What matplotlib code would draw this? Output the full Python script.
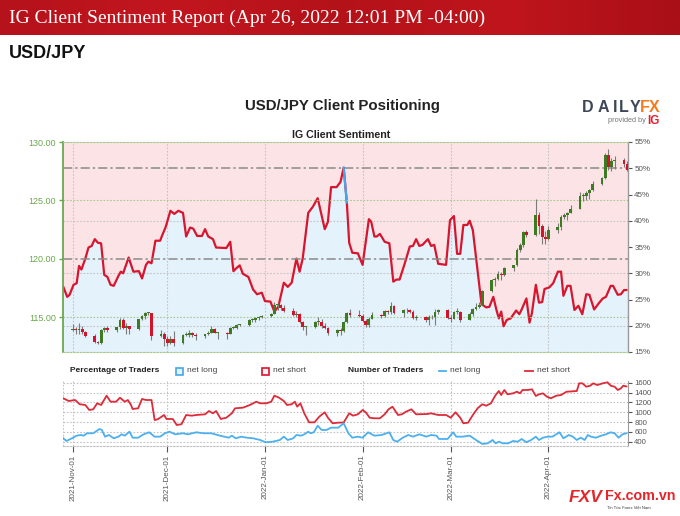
import matplotlib
matplotlib.use("Agg")
import matplotlib.pyplot as plt
import matplotlib.dates as mdates
import numpy as np
import pandas as pd
from matplotlib.patches import Rectangle
from matplotlib.lines import Line2D
from matplotlib.colors import LinearSegmentedColormap

# ---------------------------------------------------------------- data
# Daily USD/JPY candles (trading days 2021-11-01 .. 2022-04-26)
candle_days = pd.bdate_range("2021-11-01", "2022-04-26")
open_ = [113.95, 114.00, 113.95, 114.05, 113.75, 113.40, 112.90, 112.85, 113.90, 114.10, 113.90, 114.15, 114.80, 114.10, 114.25, 114.00, 114.85, 115.10, 115.35, 115.35, 113.40, 113.60,
         113.15, 112.80, 113.15, 112.80, 113.50, 113.50, 113.70, 113.50, 113.40, 113.55, 113.70, 114.05, 113.70, 113.70, 113.60, 114.10, 114.10, 114.40, 114.40, 114.80, 114.80, 114.95, 115.05,
         115.10, 115.30, 116.10, 116.10, 115.85, 115.55, 115.20, 115.30, 114.60, 114.20, 114.20, 114.60, 114.60, 114.30, 114.10, 113.70, 113.95, 113.85, 114.65, 115.35, 115.25,
         115.10, 114.70, 114.40, 114.90, 115.20, 115.10, 115.55, 115.50, 116.00, 115.40, 115.60, 115.60, 115.45, 114.95, 115.00, 114.75, 115.05, 115.00, 115.50, 115.60,
         114.95, 114.90, 115.50, 115.50, 114.80, 115.30, 115.70, 115.90, 116.10, 117.30, 118.20, 118.30, 118.75, 118.60, 119.20, 119.45, 120.80, 121.20, 122.30, 122.05, 123.80, 122.80, 121.85,
         121.70, 122.50, 122.75, 123.60, 123.75, 123.95, 124.30, 125.35, 125.40, 125.60, 125.90, 126.40, 126.90, 128.90, 127.90, 128.40, 128.50, 128.10]
high = [114.45, 114.15, 114.50, 114.30, 113.85, 113.55, 113.00, 114.00, 114.20, 114.30, 114.20, 114.95, 114.95, 114.50, 114.30, 114.90, 115.20, 115.50, 115.50, 115.35, 113.90, 113.80,
        113.40, 113.40, 113.85, 113.55, 113.80, 113.95, 113.75, 113.65, 113.60, 113.85, 114.25, 114.10, 113.80, 113.75, 114.15, 114.30, 114.45, 114.45, 114.85, 114.95, 115.00, 115.10, 115.20,
        115.40, 116.35, 116.20, 116.15, 116.05, 115.85, 115.55, 115.35, 114.70, 114.30, 114.70, 115.05, 114.85, 114.50, 114.20, 114.00, 114.10, 114.70, 115.50, 115.70, 115.60,
        115.30, 114.85, 115.00, 115.45, 115.30, 115.60, 115.65, 116.35, 116.10, 115.70, 115.85, 115.75, 115.60, 115.20, 115.15, 115.20, 115.25, 115.70, 115.75, 115.75,
        115.20, 115.55, 115.80, 115.55, 115.45, 115.80, 116.20, 116.30, 117.35, 118.30, 118.45, 119.00, 118.85, 119.30, 119.50, 120.95, 121.40, 122.40, 122.45, 125.10, 124.00, 123.00, 122.40,
        122.80, 123.05, 123.75, 123.95, 124.00, 124.60, 125.75, 125.60, 125.80, 126.00, 126.65, 127.00, 129.10, 129.40, 128.60, 128.80, 128.65, 128.40]
low = [113.85, 113.55, 113.60, 113.60, 113.30, 112.85, 112.75, 112.75, 113.75, 113.80, 113.75, 114.05, 114.05, 113.60, 113.60, 113.90, 114.75, 114.85, 115.20, 113.05, 113.30, 112.55,
       112.60, 112.70, 112.55, 112.75, 113.40, 113.35, 113.30, 113.10, 113.25, 113.50, 113.70, 113.65, 113.15, 113.15, 113.55, 114.00, 114.00, 114.30, 114.30, 114.65, 114.60, 114.80, 114.95,
       115.00, 115.30, 115.65, 115.65, 115.45, 115.10, 115.05, 114.50, 113.90, 113.50, 114.10, 114.40, 114.10, 114.00, 113.50, 113.45, 113.50, 113.80, 114.55, 115.05, 115.00,
       114.60, 114.20, 114.20, 114.90, 114.95, 115.05, 115.30, 115.30, 115.30, 115.00, 115.35, 115.35, 114.85, 114.80, 114.60, 114.40, 114.85, 114.40, 115.30, 114.85,
       114.65, 114.85, 115.30, 114.65, 114.80, 115.10, 115.60, 115.80, 116.05, 117.20, 117.70, 118.20, 118.20, 118.55, 118.95, 119.40, 120.60, 121.05, 121.90, 122.00, 122.15, 121.30, 121.30,
       121.60, 122.25, 122.45, 123.40, 123.35, 123.90, 124.30, 124.95, 125.05, 125.10, 125.80, 126.35, 126.85, 127.60, 127.50, 127.65, 127.90, 127.50]
close = [114.00, 113.95, 114.05, 113.75, 113.40, 112.90, 112.85, 113.90, 114.10, 113.90, 114.15, 114.80, 114.10, 114.25, 114.00, 114.85, 115.10, 115.35, 115.35, 113.40, 113.60, 113.15,
         112.80, 113.15, 112.80, 113.50, 113.50, 113.70, 113.50, 113.40, 113.55, 113.70, 114.05, 113.70, 113.70, 113.60, 114.10, 114.10, 114.40, 114.40, 114.80, 114.80, 114.95, 115.05, 115.10,
         115.30, 116.10, 116.10, 115.85, 115.55, 115.20, 115.30, 114.60, 114.20, 114.20, 114.60, 114.60, 114.30, 114.10, 113.70, 113.95, 113.85, 114.65, 115.35, 115.25, 115.10,
         114.70, 114.40, 114.90, 115.20, 115.10, 115.55, 115.50, 116.00, 115.40, 115.60, 115.60, 115.45, 114.95, 115.00, 114.75, 115.05, 115.00, 115.50, 115.60, 114.95,
         114.90, 115.50, 115.50, 114.80, 115.30, 115.70, 115.90, 116.10, 117.30, 118.20, 118.30, 118.75, 118.60, 119.20, 119.45, 120.80, 121.20, 122.30, 122.05, 123.80, 122.80, 121.85, 121.70,
         122.50, 122.75, 123.60, 123.75, 123.95, 124.30, 125.35, 125.40, 125.60, 125.90, 126.40, 126.90, 128.90, 127.90, 128.40, 128.50, 128.10, 127.60]

# Percentage of traders net long
pct_times = ['2021-10-29 00:00', '2021-10-30 06:00', '2021-10-31 00:00', '2021-11-01 06:00', '2021-11-02 06:00', '2021-11-03 00:00',
             '2021-11-03 18:00', '2021-11-05 00:00', '2021-11-06 00:00', '2021-11-07 00:00', '2021-11-08 00:00', '2021-11-09 00:00',
             '2021-11-10 00:00', '2021-11-11 00:00', '2021-11-12 00:00', '2021-11-13 00:00', '2021-11-14 00:00', '2021-11-15 12:00',
             '2021-11-16 06:00', '2021-11-17 00:00', '2021-11-18 18:00', '2021-11-20 06:00', '2021-11-22 00:00', '2021-11-23 00:00',
             '2021-11-24 06:00', '2021-11-25 00:00', '2021-11-26 00:00', '2021-11-27 06:00', '2021-11-28 18:00', '2021-11-29 06:00',
             '2021-11-30 12:00', '2021-12-02 00:00', '2021-12-03 06:00', '2021-12-04 12:00', '2021-12-06 00:00', '2021-12-07 00:00',
             '2021-12-08 06:00', '2021-12-09 06:00', '2021-12-10 12:00', '2021-12-12 00:00', '2021-12-13 00:00', '2021-12-14 00:00',
             '2021-12-15 12:00', '2021-12-16 12:00', '2021-12-19 18:00', '2021-12-21 00:00', '2021-12-22 00:00', '2021-12-23 00:00',
             '2021-12-24 00:00', '2021-12-25 00:00', '2021-12-26 18:00', '2021-12-28 06:00', '2021-12-29 12:00', '2021-12-31 00:00',
             '2022-01-01 00:00', '2022-01-02 18:00', '2022-01-04 00:00', '2022-01-05 06:00', '2022-01-07 00:00', '2022-01-08 06:00',
             '2022-01-09 12:00', '2022-01-11 00:00', '2022-01-12 00:00', '2022-01-13 00:00', '2022-01-14 18:00', '2022-01-16 06:00',
             '2022-01-17 18:00', '2022-01-20 00:00', '2022-01-21 00:00', '2022-01-22 00:00', '2022-01-23 18:00', '2022-01-25 00:00',
             '2022-01-26 00:00', '2022-01-27 00:00', '2022-01-27 18:00', '2022-01-28 18:00', '2022-01-30 12:00', '2022-02-01 00:00',
             '2022-02-03 00:00', '2022-02-03 18:00', '2022-02-04 18:00', '2022-02-05 12:00', '2022-02-06 12:00', '2022-02-08 00:00',
             '2022-02-09 12:00', '2022-02-10 18:00', '2022-02-11 18:00', '2022-02-12 18:00', '2022-02-14 06:00', '2022-02-16 00:00',
             '2022-02-17 00:00', '2022-02-18 00:00', '2022-02-19 00:00', '2022-02-20 00:00', '2022-02-21 18:00', '2022-02-22 18:00',
             '2022-02-23 18:00', '2022-02-25 00:00', '2022-02-27 12:00', '2022-02-28 18:00', '2022-03-02 00:00', '2022-03-03 00:00',
             '2022-03-04 00:00', '2022-03-05 00:00', '2022-03-06 06:00', '2022-03-07 00:00', '2022-03-08 00:00', '2022-03-10 18:00',
             '2022-03-12 06:00', '2022-03-13 06:00', '2022-03-14 12:00', '2022-03-15 12:00', '2022-03-16 06:00', '2022-03-17 00:00',
             '2022-03-17 18:00', '2022-03-18 18:00', '2022-03-20 00:00', '2022-03-21 18:00', '2022-03-22 18:00', '2022-03-23 12:00',
             '2022-03-25 00:00', '2022-03-26 00:00', '2022-03-26 18:00', '2022-03-28 00:00', '2022-03-29 00:00', '2022-03-30 00:00',
             '2022-03-30 18:00', '2022-04-01 06:00', '2022-04-02 12:00', '2022-04-04 00:00', '2022-04-05 00:00', '2022-04-05 18:00',
             '2022-04-07 00:00', '2022-04-08 00:00', '2022-04-09 06:00', '2022-04-10 12:00', '2022-04-11 18:00', '2022-04-13 00:00',
             '2022-04-14 00:00', '2022-04-15 12:00', '2022-04-17 00:00', '2022-04-18 06:00', '2022-04-19 06:00', '2022-04-20 18:00',
             '2022-04-21 12:00', '2022-04-23 00:00', '2022-04-24 00:00', '2022-04-25 00:00', '2022-04-25 18:00']
pct_long = [27.4, 25.5, 25.9, 27.8, 28.1, 31.4,
            30.7, 32.8, 34.9, 35.2, 36.5, 35.8,
            35.7, 29.7, 29.3, 27.8, 27.6, 29.5,
            30.3, 30.0, 33.0, 30.3, 30.4, 29.0,
            31.6, 32.2, 31.9, 36.2, 36.2, 37.0,
            38.8, 41.9, 41.3, 41.9, 41.5, 37.0,
            38.7, 38.5, 37.1, 37.1, 38.4, 37.0,
            36.5, 34.9, 34.8, 36.0, 30.4, 31.0,
            31.5, 29.9, 29.3, 26.9, 26.0, 26.3,
            24.7, 24.6, 22.7, 23.6, 28.2, 27.4,
            28.2, 32.8, 30.3, 32.8, 41.5, 42.7,
            44.3, 38.4, 39.8, 46.4, 46.4, 47.4,
            50.1, 43.5, 35.8, 33.9, 33.8, 31.6,
            40.3, 39.8, 37.0, 37.0, 37.5, 36.0,
            35.7, 28.4, 28.8, 28.8, 31.6, 35.1,
            35.2, 36.5, 35.2, 35.4, 36.5, 35.2,
            35.4, 31.8, 31.6, 40.1, 40.9, 33.7,
            33.7, 39.2, 39.2, 40.0, 38.2, 24.1,
            23.5, 23.6, 25.5, 23.0, 21.4, 22.7,
            19.9, 21.1, 21.4, 22.9, 22.2, 23.1,
            25.2, 20.6, 22.4, 27.8, 24.4, 24.5,
            27.0, 27.3, 28.1, 30.3, 30.3, 25.7,
            27.6, 27.6, 23.0, 23.8, 22.2, 26.0,
            25.9, 23.1, 24.3, 25.2, 25.5, 27.6,
            27.6, 25.9, 26.0, 26.8, 26.8]

# Number of traders net short
short_times = ['2021-10-29 00:00', '2021-10-30 18:00', '2021-11-01 18:00', '2021-11-03 06:00', '2021-11-05 00:00', '2021-11-06 06:00',
               '2021-11-07 12:00', '2021-11-08 18:00', '2021-11-10 00:00', '2021-11-11 18:00', '2021-11-13 00:00', '2021-11-14 18:00',
               '2021-11-16 00:00', '2021-11-17 12:00', '2021-11-18 12:00', '2021-11-19 12:00', '2021-11-20 00:00', '2021-11-21 18:00',
               '2021-11-23 00:00', '2021-11-24 06:00', '2021-11-26 00:00', '2021-11-27 00:00', '2021-11-28 00:00', '2021-11-30 00:00',
               '2021-11-30 18:00', '2021-12-02 18:00', '2021-12-04 00:00', '2021-12-05 12:00', '2021-12-07 00:00', '2021-12-08 18:00',
               '2021-12-10 06:00', '2021-12-13 00:00', '2021-12-14 06:00', '2021-12-15 12:00', '2021-12-16 12:00', '2021-12-18 00:00',
               '2021-12-19 18:00', '2021-12-21 12:00', '2021-12-22 12:00', '2021-12-25 00:00', '2021-12-27 06:00', '2021-12-29 06:00',
               '2021-12-30 12:00', '2022-01-01 12:00', '2022-01-03 00:00', '2022-01-04 00:00', '2022-01-05 12:00', '2022-01-07 00:00',
               '2022-01-08 00:00', '2022-01-09 12:00', '2022-01-10 12:00', '2022-01-11 06:00', '2022-01-12 06:00', '2022-01-13 12:00',
               '2022-01-15 00:00', '2022-01-16 18:00', '2022-01-18 06:00', '2022-01-20 00:00', '2022-01-21 00:00', '2022-01-22 12:00',
               '2022-01-24 06:00', '2022-01-26 00:00', '2022-01-27 18:00', '2022-01-29 00:00', '2022-01-30 12:00', '2022-02-01 00:00',
               '2022-02-02 00:00', '2022-02-03 06:00', '2022-02-04 18:00', '2022-02-06 12:00', '2022-02-08 00:00', '2022-02-09 06:00',
               '2022-02-10 12:00', '2022-02-12 06:00', '2022-02-13 12:00', '2022-02-14 18:00', '2022-02-16 12:00', '2022-02-18 00:00',
               '2022-02-21 12:00', '2022-02-22 18:00', '2022-02-25 00:00', '2022-02-27 12:00', '2022-03-01 00:00', '2022-03-02 12:00',
               '2022-03-04 00:00', '2022-03-05 00:00', '2022-03-06 12:00', '2022-03-08 00:00', '2022-03-09 12:00', '2022-03-11 00:00',
               '2022-03-12 06:00', '2022-03-13 18:00', '2022-03-14 12:00', '2022-03-15 06:00', '2022-03-16 06:00', '2022-03-17 00:00',
               '2022-03-18 00:00', '2022-03-19 00:00', '2022-03-20 18:00', '2022-03-22 00:00', '2022-03-23 00:00', '2022-03-23 18:00',
               '2022-03-25 12:00', '2022-03-26 18:00', '2022-03-28 00:00', '2022-03-29 00:00', '2022-03-30 06:00', '2022-03-31 12:00',
               '2022-04-01 18:00', '2022-04-03 12:00', '2022-04-05 00:00', '2022-04-06 18:00', '2022-04-10 00:00', '2022-04-10 18:00',
               '2022-04-11 18:00', '2022-04-13 00:00', '2022-04-14 06:00', '2022-04-15 06:00', '2022-04-16 12:00', '2022-04-18 06:00',
               '2022-04-19 18:00', '2022-04-20 18:00', '2022-04-22 00:00', '2022-04-23 00:00', '2022-04-24 00:00', '2022-04-24 18:00',
               '2022-04-25 18:00']
short_count = [1283, 1228, 1248, 1161, 1147, 1045,
               1059, 1181, 1147, 1336, 1214, 1214,
               1295, 1214, 1248, 1147, 1065, 1079,
               1269, 1248, 1248, 841, 856, 943,
               862, 862, 740, 754, 943, 929,
               943, 957, 1024, 977, 1024, 862,
               888, 977, 1079, 1092, 1147, 1214,
               1181, 1181, 1214, 1336, 1295, 1228,
               1147, 1161, 1214, 1112, 1181, 977,
               794, 794, 909, 998, 888, 774,
               787, 790, 977, 929, 957, 1045,
               998, 888, 876, 876, 957, 1059,
               1112, 943, 957, 1010, 1059, 957,
               963, 977, 943, 943, 888, 998,
               888, 774, 787, 943, 1079, 1161,
               1132, 1181, 1269, 1350, 1431, 1350,
               1452, 1364, 1384, 1417, 1384, 1452,
               1452, 1466, 1330, 1364, 1384, 1316,
               1283, 1336, 1350, 1417, 1431, 1588,
               1588, 1519, 1539, 1588, 1553, 1588,
               1608, 1539, 1519, 1452, 1486, 1539,
               1525]

# Number of traders net long
long_times = ['2021-10-29 00:00', '2021-10-30 00:00', '2021-10-31 18:00', '2021-11-02 06:00', '2021-11-03 12:00', '2021-11-04 12:00',
              '2021-11-05 12:00', '2021-11-07 12:00', '2021-11-09 12:00', '2021-11-10 06:00', '2021-11-11 06:00', '2021-11-12 12:00',
              '2021-11-14 00:00', '2021-11-15 12:00', '2021-11-16 12:00', '2021-11-17 12:00', '2021-11-19 00:00', '2021-11-20 00:00',
              '2021-11-21 18:00', '2021-11-23 12:00', '2021-11-25 06:00', '2021-11-27 00:00', '2021-11-28 18:00', '2021-11-30 06:00',
              '2021-12-01 18:00', '2021-12-03 12:00', '2021-12-06 00:00', '2021-12-07 12:00', '2021-12-10 06:00', '2021-12-12 12:00',
              '2021-12-15 00:00', '2021-12-17 18:00', '2021-12-20 12:00', '2021-12-21 12:00', '2021-12-22 18:00', '2021-12-24 12:00',
              '2021-12-26 06:00', '2021-12-28 06:00', '2021-12-30 12:00', '2022-01-01 06:00', '2022-01-03 12:00', '2022-01-05 18:00',
              '2022-01-07 00:00', '2022-01-08 06:00', '2022-01-10 00:00', '2022-01-11 00:00', '2022-01-12 12:00', '2022-01-13 12:00',
              '2022-01-14 18:00', '2022-01-15 12:00', '2022-01-16 12:00', '2022-01-17 18:00', '2022-01-19 00:00', '2022-01-20 12:00',
              '2022-01-22 00:00', '2022-01-24 06:00', '2022-01-26 00:00', '2022-01-27 12:00', '2022-01-28 18:00', '2022-01-30 12:00',
              '2022-02-01 00:00', '2022-02-02 18:00', '2022-02-04 18:00', '2022-02-07 00:00', '2022-02-09 12:00', '2022-02-10 18:00',
              '2022-02-12 00:00', '2022-02-13 18:00', '2022-02-15 12:00', '2022-02-17 00:00', '2022-02-19 00:00', '2022-02-21 06:00',
              '2022-02-22 18:00', '2022-02-24 12:00', '2022-02-25 06:00', '2022-02-28 00:00', '2022-03-01 18:00', '2022-03-02 18:00',
              '2022-03-04 18:00', '2022-03-07 00:00', '2022-03-09 00:00', '2022-03-11 00:00', '2022-03-12 18:00', '2022-03-14 06:00',
              '2022-03-15 06:00', '2022-03-16 06:00', '2022-03-17 12:00', '2022-03-19 06:00', '2022-03-20 18:00', '2022-03-22 06:00',
              '2022-03-23 12:00', '2022-03-25 00:00', '2022-03-26 12:00', '2022-03-28 00:00', '2022-03-29 00:00', '2022-03-30 06:00',
              '2022-03-31 18:00', '2022-04-02 06:00', '2022-04-04 12:00', '2022-04-05 18:00', '2022-04-07 12:00', '2022-04-08 18:00',
              '2022-04-10 00:00', '2022-04-11 06:00', '2022-04-12 12:00', '2022-04-13 12:00', '2022-04-14 12:00', '2022-04-16 00:00',
              '2022-04-17 18:00', '2022-04-19 06:00', '2022-04-20 18:00', '2022-04-22 00:00', '2022-04-23 06:00', '2022-04-24 12:00',
              '2022-04-25 18:00']
long_count = [469, 414, 469, 522, 536, 522,
              571, 571, 658, 638, 502, 536,
              469, 502, 550, 522, 603, 481,
              481, 550, 591, 502, 502, 571,
              603, 550, 571, 550, 591, 571,
              571, 522, 481, 522, 469, 502,
              481, 469, 434, 388, 400, 434,
              502, 434, 469, 536, 522, 550,
              603, 571, 591, 725, 638, 638,
              685, 685, 774, 571, 481, 502,
              481, 591, 522, 536, 591, 434,
              400, 481, 536, 502, 550, 502,
              536, 522, 455, 455, 591, 502,
              502, 522, 434, 353, 367, 434,
              367, 400, 367, 367, 414, 400,
              455, 388, 434, 502, 434, 481,
              502, 502, 591, 469, 536, 502,
              434, 481, 434, 536, 502, 481,
              522, 550, 591, 571, 481, 550,
              571]

month_ticks = ['2021-11-01', '2021-12-01', '2022-01-01', '2022-02-01', '2022-03-01', '2022-04-01']
price_ticks = [115, 120, 125, 130]
pct_ticks = [15, 20, 25, 30, 35, 40, 45, 50, 55]
count_ticks = [400, 600, 800, 1000, 1200, 1400, 1600]

# ---------------------------------------------------------------- style
RED = '#d8152e'
BLUE = '#45a7ea'
PINK_FILL = '#fce4e6'
BLUE_FILL = '#e4f2fc'
GREEN = '#6aa84f'
UP = '#3d7a22'
DOWN = '#d3132a'
GRID = '#c4c4c4'
TXT = '#555555'
SANS = ['Liberation Sans', 'DejaVu Sans']

W, H = 680, 516
fig = plt.figure(figsize=(W / 100, H / 100), dpi=100)
fig.patch.set_facecolor('white')


def fx(p):
    return p / W


def fy(p):
    return 1 - p / H


# ---------------------------------------------------------------- banner
axb = fig.add_axes([0, fy(35), 1, 35 / H])
cmap_b = LinearSegmentedColormap.from_list('b', ['#b5121b', '#c2161f', '#b41219', '#c0151d', '#a90f17'])
axb.imshow(np.linspace(0, 1, 256)[None, :], aspect='auto', cmap=cmap_b, extent=[0, 1, 0, 1])
axb.axis('off')
fig.text(fx(9), fy(18), 'IG Client Sentiment Report (Apr 26, 2022 12:01 PM -04:00)', color='white',
         family=['Liberation Serif', 'DejaVu Serif'], fontsize=14, va='center', ha='left')
fig.text(fx(9), fy(53), 'USD/JPY', family=SANS,
         fontweight='bold', fontsize=13, va='center', ha='left', color='#111111')

fig.text(fx(342.5), fy(106), 'USD/JPY Client Positioning', family=SANS, fontweight='bold',
         fontsize=10.8, ha='center', va='center', color='#222222')
fig.text(fx(341.5), fy(134.5), 'IG Client Sentiment', family=SANS, fontweight='bold',
         fontsize=7.7, ha='center', va='center', color='#222222')

# DailyFX logo
for ch, xc, col in zip('DAILYFX', [587.5, 603.3, 615.0, 624.0, 634.7, 644.7, 654.3],
                       ['#3c4658'] * 5 + ['#f47b20'] * 2):
    fig.text(fx(xc), fy(108), ch, family=SANS, fontweight='bold', fontsize=11.5,
             ha='center', va='center', color=col)
fig.text(fx(645.5), fy(120.5), 'provided by', family=SANS, fontsize=5.3, ha='right', va='center', color='#777777')
fig.text(fx(647.5), fy(120.5), 'IG', family=SANS, fontweight='bold', fontsize=8.5, ha='left', va='center', color='#e4202e')

# ---------------------------------------------------------------- main panel
t_pct = mdates.date2num(pd.to_datetime(pct_times))
t_cdl = mdates.date2num(candle_days)
t_months = mdates.date2num(pd.to_datetime(month_ticks))
x_lo = mdates.date2num(pd.Timestamp('2021-10-28 18:00'))
x_hi = mdates.date2num(pd.Timestamp('2022-04-26 06:00'))

ax_p = fig.add_axes([fx(62.5), fy(352), fx(628) - fx(62.5), (352 - 142) / H])
ax_p.set_facecolor(PINK_FILL)
ax_p.set_xlim(x_lo, x_hi)
ax_p.set_ylim(15, 55)
pct_arr = np.array(pct_long)
ax_p.fill_between(t_pct, pct_arr, 15, color=BLUE_FILL, lw=0, zorder=1)
ax_p.fill_between(t_pct, pct_arr, 55, color=PINK_FILL, lw=0, zorder=1)
for xv in t_months:
    ax_p.axvline(xv, color=GRID, lw=0.8, ls=(0, (1.5, 1.5)), zorder=2)
for yv in [20, 30, 40]:
    ax_p.axhline(yv, color=GRID, lw=0.8, ls=(0, (1.5, 1.5)), zorder=2)
ax_p.axhline(50, color='#8a8a8a', lw=1.1, ls=(0, (6, 2, 1.5, 2)), zorder=2)
ax_p.plot(t_pct, pct_arr, color=RED, lw=1.6, zorder=4, solid_joinstyle='round')
for i in range(len(pct_arr) - 1):
    if pct_arr[i] >= 50:
        ax_p.plot(t_pct[i:i + 2], pct_arr[i:i + 2], color=BLUE, lw=1.6, zorder=5)
ax_p.set_xticks([])
for s in ax_p.spines.values():
    s.set_visible(False)

ax_c = ax_p.twinx()
ax_c.set_ylim(112.05, 130)
ax_c.set_xlim(x_lo, x_hi)
for yv in [115, 125]:
    ax_c.axhline(yv, color='#a9c98f', lw=0.8, ls=(0, (1.5, 1.5)), zorder=1)
ax_c.axhline(120, color='#8a8a8a', lw=1.1, ls=(0, (6, 2, 1.5, 2)), zorder=1)
o = np.array(open_); c = np.array(close); hi = np.array(high); lo = np.array(low)
up = c >= o
ax_c.vlines(t_cdl, lo, hi, color='#7b7b7b', lw=0.8, zorder=3)
body = np.maximum(np.abs(c - o), 0.08)
base = np.minimum(o, c)
ax_c.bar(t_cdl[up], body[up], bottom=base[up], width=0.9, color=UP, lw=0, zorder=4)
ax_c.bar(t_cdl[~up], body[~up], bottom=base[~up], width=0.9, color=DOWN, lw=0, zorder=4)
ax_c.set_xticks([])

# axis sides (after twinx, which resets them)
ax_p.yaxis.tick_right()
ax_p.yaxis.set_label_position('right')
ax_p.set_yticks(pct_ticks)
ax_p.set_yticklabels([f'{v}%' for v in pct_ticks])
ax_p.tick_params(axis='y', which='both', left=False, labelleft=False, right=True, labelright=True,
                 colors=TXT, labelsize=5.8, length=3, width=0.8, pad=1.5)
for lab in ax_p.get_yticklabels():
    lab.set_family(SANS)

ax_c.yaxis.tick_left()
ax_c.yaxis.set_label_position('left')
ax_c.set_yticks(price_ticks)
ax_c.set_yticklabels([f'{v:.2f}' for v in price_ticks])
ax_c.tick_params(axis='y', which='both', right=False, labelright=False, left=True, labelleft=True,
                 colors=GREEN, labelsize=6.5, length=3, width=1, pad=1.5)
for lab in ax_c.get_yticklabels():
    lab.set_family(SANS)
ax_c.spines['left'].set_color(GREEN)
ax_c.spines['left'].set_linewidth(1.3)
ax_c.spines['right'].set_color('#9a9a9a')
ax_c.spines['right'].set_linewidth(1.0)
for k in ['top', 'bottom']:
    ax_c.spines[k].set_color('#a9c98f')
    ax_c.spines[k].set_linewidth(0.8)
    ax_c.spines[k].set_linestyle((0, (1.5, 1.5)))

# ---------------------------------------------------------------- lower panel
ax_l = fig.add_axes([fx(62.5), fy(446), fx(628) - fx(62.5), (446 - 381) / H])
ax_l.set_xlim(x_lo, x_hi)
ax_l.set_ylim(312, 1635)
for xv in t_months:
    ax_l.axvline(xv, color=GRID, lw=0.8, ls=(0, (1.5, 1.5)), zorder=1)
for yv in count_ticks:
    ax_l.axhline(yv, color=GRID, lw=0.8, ls=(0, (1.5, 1.5)), zorder=1)
ax_l.axvline(x_lo, color=GRID, lw=0.8, ls=(0, (1.5, 1.5)), zorder=1)
ax_l.plot(mdates.date2num(pd.to_datetime(short_times)), short_count, color='#dd2b3a', lw=1.3, zorder=3)
ax_l.plot(mdates.date2num(pd.to_datetime(long_times)), long_count, color='#4cb0ee', lw=1.3, zorder=3)
ax_l.yaxis.tick_right()
ax_l.set_yticks(count_ticks)
ax_l.set_yticklabels([str(v) for v in count_ticks])
ax_l.tick_params(axis='y', colors=TXT, labelsize=5.6, length=3, width=0.8, pad=1.5)
ax_l.set_xticks(t_months)
ax_l.xaxis.set_major_formatter(mdates.DateFormatter('%Y-%b-%d'))
ax_l.tick_params(axis='x', colors=TXT, labelsize=5.8, length=4, width=0.8, rotation=90, pad=2)
for lab in ax_l.get_yticklabels() + ax_l.get_xticklabels():
    lab.set_family(SANS)
for k in ['left', 'top']:
    ax_l.spines[k].set_visible(False)
ax_l.spines['right'].set_color('#9a9a9a')
ax_l.spines['bottom'].set_color(GRID)
ax_l.spines['bottom'].set_linewidth(0.8)
ax_l.spines['bottom'].set_linestyle((0, (1.5, 1.5)))

# legend row
ly = fy(371)
fig.text(fx(70), ly, 'Percentage of Traders', family=SANS, fontweight='bold', fontsize=6, va='center', color='#222222')
fig.patches.append(Rectangle((fx(176), fy(374.5)), fx(6.5), 6.5 / H, transform=fig.transFigure,
                             facecolor=BLUE_FILL, edgecolor=BLUE, lw=1.2))
fig.text(fx(187), ly, 'net long', family=SANS, fontsize=6, va='center', color='#444444')
fig.patches.append(Rectangle((fx(262), fy(374.5)), fx(6.5), 6.5 / H, transform=fig.transFigure,
                             facecolor='#fdf0f1', edgecolor=RED, lw=1.2))
fig.text(fx(273), ly, 'net short', family=SANS, fontsize=6, va='center', color='#444444')
fig.text(fx(348), ly, 'Number of Traders', family=SANS, fontweight='bold', fontsize=6, va='center', color='#222222')
fig.lines.append(Line2D([fx(439), fx(446)], [ly, ly], transform=fig.transFigure, color='#4cb0ee', lw=1.3))
fig.text(fx(450), ly, 'net long', family=SANS, fontsize=6, va='center', color='#444444')
fig.lines.append(Line2D([fx(525), fx(532.5)], [ly, ly], transform=fig.transFigure, color='#dd2b3a', lw=1.3))
fig.text(fx(537), ly, 'net short', family=SANS, fontsize=6, va='center', color='#444444')

# watermark
fig.text(fx(586), fy(497), 'FXV', family=SANS, fontweight='bold', fontstyle='italic', fontsize=12.5,
         ha='center', va='center', color='#e3262a')
fig.text(fx(605), fy(496), 'Fx.com.vn', family=SANS,
         fontweight='bold', fontsize=10.3, ha='left', va='center', color='#e3262a')
fig.text(fx(607), fy(507.5), 'Tin Tức Forex Việt Nam', family=SANS, fontsize=3,
         ha='left', va='center', color='#333333')

fig.savefig('out.png', dpi=100, facecolor='white')
